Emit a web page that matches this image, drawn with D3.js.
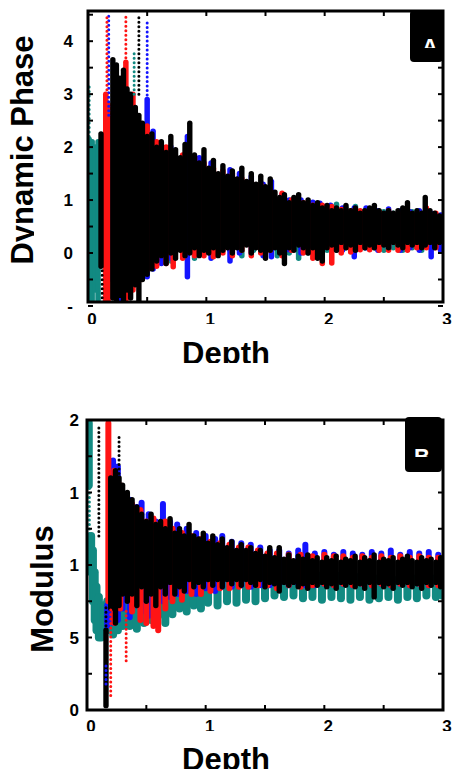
<!DOCTYPE html>
<html>
<head>
<meta charset="utf-8">
<script src="https://cdn.jsdelivr.net/npm/d3@7"></script>
<style>
  body { margin: 0; background: #fff; }
  svg { display: block; }
  text { font-family: "Liberation Sans", Arial, sans-serif; font-weight: bold; }
</style>
</head>
<body>
<div id="plot"></div>
<script>
// values: each streak is [depth, low, high]

const depthTicks = [0, 0.5, 1, 1.5, 2, 2.5, 3];
const depthLabels = [[0, "0"], [1, "1"], [2, "2"], [3, "3"]];

const phaseTicks = [-1, -0.5, 0, 0.5, 1, 1.5, 2, 2.5, 3, 3.5, 4, 4.5];
const phaseLabels = [[-1, "-"], [0, "0"], [1, "1"], [2, "2"], [3, "3"], [4, "4"]];

const modTicks = [0, 0.25, 0.5, 0.75, 1, 1.25, 1.5, 1.75, 2];
const modLabels = [[0, "0"], [0.5, "5"], [1, "1"], [1.5, "1"], [2, "2"]];

// ---- panel A : Dynamic Phase ----
const phaseTeal = [
  [0.01,-0.93,2.15],[0.035,-0.93,2.1],[0.06,-0.7,2.0],[0.085,-0.93,2.1],
  [0.5,-0.2,1.8],[0.6,-0.1,1.7],[0.7,-0.15,1.6],[0.8,0,1.5],[0.9,-0.1,1.6],
  [1.0,0.05,1.4],[1.1,0,1.4],[1.2,0.05,1.3],[1.3,-0.05,1.3],[1.4,0.05,1.2],
  [1.5,0,1.15],[1.6,-0.05,1.0],[1.7,0,0.95],[1.78,-0.1,0.95],[1.86,0,0.9],
  [1.94,0.05,0.9],[2.02,0.05,0.85],[2.1,0.05,0.92],[2.18,0.1,0.85],[2.26,0.05,0.88],
  [2.34,0.1,0.8],[2.42,0.1,0.8],[2.5,0.05,0.78],[2.58,0.1,0.75],[2.66,0.05,0.8],
  [2.74,0.1,0.78],[2.82,0.05,0.75],[2.9,0.1,0.72],[2.98,0.05,0.7]
];
const phaseBlue = [
  [0.18,-0.5,2.6],[0.28,-0.93,3.2],[0.35,-0.3,2.8],[0.5,-0.45,2.9],[0.55,-0.3,2.3],
  [0.62,-0.2,1.9],[0.7,-0.1,2.0],[0.84,-0.45,2.2],[0.94,0,1.8],[1.04,-0.1,1.7],
  [1.2,-0.15,1.57],[1.28,0,1.5],[1.38,0,1.45],[1.48,-0.05,1.3],[1.55,-0.07,1.35],
  [1.64,0,1.1],[1.7,0.06,1.0],[1.8,0,1.0],[1.9,0.05,0.96],[1.96,0.05,0.94],
  [2.05,0.1,0.9],[2.15,0.05,0.85],[2.25,-0.07,0.85],[2.35,0.1,0.85],[2.45,0.05,0.8],
  [2.54,0.1,0.83],[2.64,0.05,0.8],[2.72,0.1,0.78],[2.8,0.05,0.8],[2.9,-0.07,0.75],
  [2.98,0.05,0.72]
];
const phaseRed = [
  [0.15,-0.93,3.0],[0.17,-0.93,2.8],[0.32,-0.93,3.6],[0.38,-0.7,3.0],[0.45,-0.5,2.3],
  [0.5,-0.32,2.4],[0.58,-0.25,2.1],[0.66,-0.2,2.0],[0.72,-0.26,1.9],[0.8,-0.1,1.85],
  [0.9,-0.05,1.8],[0.98,-0.05,1.7],[1.06,-0.07,1.6],[1.14,0,1.55],[1.22,-0.05,1.5],
  [1.3,0.05,1.4],[1.38,-0.05,1.35],[1.46,0,1.3],[1.54,0.05,1.2],[1.64,-0.05,1.13],
  [1.72,0.05,1.0],[1.82,0,0.95],[1.9,-0.1,0.9],[1.98,-0.2,0.9],[2.06,-0.19,0.88],
  [2.14,0,0.82],[2.22,0.02,0.8],[2.3,0.06,0.8],[2.38,0.06,0.82],[2.46,0.05,0.78],
  [2.54,0.05,0.8],[2.62,0.05,0.75],[2.7,0.05,0.78],[2.78,0.1,0.75],[2.86,0.1,0.85],
  [2.94,0.1,0.75]
];
const phaseBlack = [
  [0.11,-0.25,2.25],[0.21,-0.85,3.65],[0.24,-0.9,3.55],[0.27,-0.8,3.3],[0.3,-0.9,3.45],
  [0.33,-0.7,3.1],[0.36,-0.85,3.0],[0.4,-0.6,2.75],[0.43,-0.9,2.6],[0.46,-0.5,2.45],
  [0.5,-0.4,2.2],[0.54,-0.3,2.25],[0.58,-0.15,2.0],[0.62,-0.05,2.1],[0.66,-0.2,1.9],
  [0.7,0,2.2],[0.74,-0.1,1.95],[0.78,0.05,1.8],[0.82,-0.05,2.05],[0.86,0,2.45],
  [0.9,0.1,1.85],[0.94,-0.05,1.7],[0.98,0.05,1.95],[1.02,0,1.6],[1.06,0.1,1.75],
  [1.1,-0.05,1.5],[1.14,0.05,1.65],[1.18,0.1,1.45],[1.22,0,1.55],[1.26,0.1,1.4],
  [1.3,0.05,1.6],[1.34,0.15,1.35],[1.38,0,1.5],[1.42,0.1,1.3],[1.46,0.05,1.45],
  [1.5,-0.1,1.25],[1.54,0.05,1.4],[1.58,0.1,1.15],[1.62,0,1.05],[1.66,-0.2,1.1],
  [1.7,0.1,0.95],[1.74,0.05,1.05],[1.78,0.15,1.1],[1.82,0.1,0.95],[1.86,0,1.0],
  [1.9,0.1,0.9],[1.94,-0.1,0.95],[1.98,-0.15,0.85],[2.02,0.1,0.9],[2.06,0.15,0.8],
  [2.1,0.05,0.85],[2.14,0.2,0.8],[2.18,0.1,0.9],[2.22,0.15,0.8],[2.26,0.05,0.85],
  [2.3,0.2,0.75],[2.34,0.1,0.8],[2.38,0.15,0.85],[2.42,0.1,0.9],[2.46,0.2,0.8],
  [2.5,0.15,0.75],[2.54,0.1,0.8],[2.58,0.2,0.75],[2.62,0.15,0.8],[2.66,0.1,0.85],
  [2.7,0.2,0.95],[2.74,0.15,0.75],[2.78,0.2,0.8],[2.82,0.1,0.75],[2.85,0.15,1.05],
  [2.89,0.2,0.8],[2.93,0.1,0.75],[2.97,0.2,0.7]
];
// sparse dotted streaks: [series, depth, low, high]
const phaseSparse = [
  ["teal",0.01,2.2,3.15],["teal",0.39,3.0,3.8],["blue",0.175,2.6,4.5],["blue",0.5,2.9,4.35],
  ["red",0.16,3.0,4.5],["red",0.32,3.6,4.5],["black",0.43,3.0,4.5],["black",0.12,-0.93,-0.3]
];

// ---- panel B : Modulus ----
const modTeal = [
  [0.015,1.55,1.98],[0.035,0.95,1.2],[0.05,0.75,1.1],[0.065,0.62,0.95],[0.08,0.55,0.85],
  [0.1,0.5,0.78],[0.12,0.5,0.72],[0.14,0.52,0.72],[0.17,0.55,0.75],[0.22,0.52,0.7],
  [0.26,0.55,0.8],[0.3,0.58,0.85],[0.36,0.58,0.85],[0.42,0.56,0.8],[0.48,0.6,0.9],
  [0.54,0.62,0.85],[0.6,0.65,0.9],[0.66,0.6,0.88],[0.72,0.66,0.9],[0.78,0.7,0.92],
  [0.84,0.68,0.9],[0.9,0.72,0.92],[0.96,0.7,0.94],[1.02,0.74,0.95],[1.1,0.72,0.93],
  [1.18,0.75,0.95],[1.26,0.74,0.94],[1.34,0.76,0.96],[1.42,0.75,0.95],[1.5,0.77,0.95],
  [1.58,0.79,0.94],[1.66,0.78,0.95],[1.74,0.79,0.93],[1.82,0.77,0.94],[1.9,0.78,0.92],
  [1.98,0.76,0.93],[2.06,0.78,0.92],[2.14,0.77,0.93],[2.22,0.76,0.91],[2.3,0.78,0.92],
  [2.38,0.76,0.93],[2.46,0.77,0.91],[2.54,0.78,0.92],[2.62,0.76,0.9],[2.7,0.78,0.92],
  [2.78,0.77,0.91],[2.86,0.79,0.9],[2.94,0.78,0.91],[2.99,0.79,0.9]
];
const modBlue = [
  [0.17,0.58,0.72],[0.22,0.6,1.72],[0.26,0.62,1.68],[0.3,0.7,1.5],[0.36,0.64,1.45],
  [0.42,0.72,1.4],[0.46,0.68,1.43],[0.52,0.65,1.35],[0.58,0.7,1.3],[0.64,0.75,1.42],
  [0.7,0.78,1.3],[0.76,0.8,1.28],[0.84,0.82,1.25],[0.92,0.8,1.22],[1.0,0.84,1.2],
  [1.08,0.82,1.18],[1.14,0.85,1.2],[1.22,0.85,1.16],[1.3,0.86,1.15],[1.38,0.85,1.14],
  [1.46,0.86,1.12],[1.54,0.86,1.1],[1.62,0.87,1.1],[1.7,0.86,1.08],[1.78,0.87,1.1],
  [1.84,0.86,1.14],[1.92,0.86,1.08],[2.0,0.87,1.09],[2.08,0.86,1.07],[2.16,0.87,1.09],
  [2.24,0.86,1.08],[2.32,0.87,1.07],[2.4,0.86,1.09],[2.48,0.87,1.08],[2.56,0.86,1.1],
  [2.64,0.87,1.07],[2.72,0.86,1.09],[2.8,0.87,1.08],[2.88,0.86,1.09],[2.96,0.87,1.07]
];
const modRed = [
  [0.18,0.75,1.98],[0.23,0.6,1.65],[0.28,0.7,1.55],[0.38,0.68,1.42],[0.45,0.62,1.38],
  [0.5,0.6,1.3],[0.56,0.58,1.32],[0.6,0.55,1.28],[0.66,0.7,1.3],[0.72,0.75,1.25],
  [0.8,0.76,1.22],[0.88,0.8,1.2],[0.96,0.8,1.18],[1.04,0.82,1.16],[1.12,0.84,1.15],
  [1.2,0.84,1.14],[1.28,0.85,1.12],[1.36,0.85,1.12],[1.44,0.86,1.1],[1.52,0.86,1.08],
  [1.6,0.84,1.08],[1.7,0.86,1.07],[1.8,0.85,1.07],[1.9,0.86,1.06],[2.0,0.87,1.07],
  [2.08,0.86,1.06],[2.16,0.87,1.06],[2.24,0.86,1.05],[2.32,0.87,1.06],[2.4,0.86,1.05],
  [2.48,0.87,1.06],[2.56,0.86,1.05],[2.64,0.87,1.06],[2.72,0.86,1.05],[2.8,0.87,1.06],
  [2.88,0.86,1.05],[2.96,0.86,1.05]
];
const modBlack = [
  [0.16,0.03,0.55],[0.2,0.7,1.6],[0.24,0.6,1.65],[0.27,0.72,1.6],[0.3,0.8,1.55],
  [0.34,0.75,1.5],[0.38,0.8,1.45],[0.42,0.72,1.4],[0.46,0.85,1.35],[0.5,0.75,1.3],
  [0.54,0.8,1.35],[0.58,0.72,1.28],[0.62,0.85,1.3],[0.66,0.8,1.25],[0.7,0.88,1.32],
  [0.74,0.8,1.22],[0.78,0.85,1.25],[0.82,0.82,1.2],[0.86,0.9,1.28],[0.9,0.85,1.2],
  [0.94,0.88,1.18],[0.98,0.85,1.22],[1.02,0.9,1.15],[1.06,0.86,1.2],[1.1,0.9,1.14],
  [1.14,0.85,1.18],[1.18,0.9,1.12],[1.22,0.87,1.16],[1.26,0.9,1.1],[1.3,0.86,1.14],
  [1.34,0.9,1.1],[1.38,0.88,1.12],[1.42,0.86,1.08],[1.46,0.9,1.1],[1.5,0.85,1.06],
  [1.54,0.88,1.12],[1.58,0.87,1.05],[1.62,0.82,1.12],[1.66,0.88,1.04],[1.7,0.86,1.07],
  [1.74,0.88,1.03],[1.78,0.85,1.06],[1.82,0.87,1.04],[1.86,0.84,1.07],[1.9,0.88,1.03],
  [1.94,0.86,1.05],[1.98,0.88,1.02],[2.02,0.85,1.05],[2.06,0.87,1.03],[2.1,0.84,1.06],
  [2.14,0.88,1.02],[2.18,0.86,1.04],[2.22,0.88,1.03],[2.26,0.85,1.06],[2.3,0.87,1.02],
  [2.34,0.84,1.05],[2.38,0.88,1.03],[2.42,0.78,1.07],[2.46,0.88,1.02],[2.5,0.85,1.04],
  [2.54,0.87,1.03],[2.58,0.84,1.05],[2.62,0.88,1.02],[2.66,0.86,1.04],[2.7,0.88,1.06],
  [2.74,0.85,1.03],[2.78,0.87,1.02],[2.82,0.84,1.05],[2.86,0.88,1.03],[2.9,0.86,1.04],
  [2.94,0.88,1.02],[2.98,0.85,1.05]
];
const modSparse = [
  ["teal",0.02,1.0,1.55],["black",0.1,1.2,1.95],["black",0.27,1.6,1.9],["black",0.16,0.55,0.72],
  ["red",0.2,0.1,0.7],["red",0.33,0.34,0.7],["blue",0.16,0.18,0.32]
];

const colors = { teal: "#128a82", blue: "#1414ff", red: "#ff1414", black: "#000" };

const width = 452, height = 775;

const svg = d3.select("#plot")
  .append("svg")
    .attr("width", width)
    .attr("height", height);

const defs = svg.append("defs");

function drawPanel(p) {
  const x = d3.scaleLinear().domain([0, 3]).range([p.left, p.right]);
  const y = d3.scaleLinear().domain(p.yDomain).range([p.bottom, p.top]);

  defs.append("clipPath").attr("id", p.id + "-clip")
    .append("rect")
      .attr("x", p.left).attr("y", p.top)
      .attr("width", p.right - p.left).attr("height", p.bottom - p.top);

  const plot = svg.append("g").attr("clip-path", "url(#" + p.id + "-clip)");

  // dense streaks, teal first and black on top
  p.series.forEach(function(s) {
    plot.selectAll(null)
      .data(s.data)
      .enter().append("line")
        .attr("x1", d => x(d[0])).attr("x2", d => x(d[0]))
        .attr("y1", d => y(d[1])).attr("y2", d => y(d[2]))
        .attr("stroke", colors[s.name])
        .attr("stroke-width", s.width)
        .attr("stroke-linecap", "round");
  });

  // sparse dotted streaks
  plot.selectAll(null)
    .data(p.sparse)
    .enter().append("line")
      .attr("x1", d => x(d[1])).attr("x2", d => x(d[1]))
      .attr("y1", d => y(d[2])).attr("y2", d => y(d[3]))
      .attr("stroke", d => colors[d[0]])
      .attr("stroke-width", 3)
      .attr("stroke-dasharray", "0,4.5")
      .attr("stroke-linecap", "round");

  // ticks on all four sides, pointing inward
  const tk = svg.append("g").attr("stroke", "#000").attr("stroke-width", 2);
  tk.selectAll(null).data(depthTicks).enter().append("line")
    .attr("x1", d => x(d)).attr("x2", d => x(d))
    .attr("y1", p.bottom).attr("y2", p.bottom - 5);
  tk.selectAll(null).data(depthTicks).enter().append("line")
    .attr("x1", d => x(d)).attr("x2", d => x(d))
    .attr("y1", p.top).attr("y2", p.top + 5);
  tk.selectAll(null).data(p.yTicks).enter().append("line")
    .attr("x1", p.left).attr("x2", p.left + 5)
    .attr("y1", d => y(d)).attr("y2", d => y(d));
  tk.selectAll(null).data(p.yTicks).enter().append("line")
    .attr("x1", p.right).attr("x2", p.right - 5)
    .attr("y1", d => y(d)).attr("y2", d => y(d));

  svg.append("rect")
    .attr("x", p.left).attr("y", p.top)
    .attr("width", p.right - p.left).attr("height", p.bottom - p.top)
    .attr("fill", "none").attr("stroke", "#000").attr("stroke-width", 3);

  // tick labels
  defs.append("clipPath").attr("id", p.id + "-xlab")
    .append("rect").attr("x", 0).attr("y", p.bottom + 2)
      .attr("width", width).attr("height", p.xLabelClip - p.bottom - 2);
  svg.append("g").attr("clip-path", "url(#" + p.id + "-xlab)")
    .selectAll("text").data(depthLabels).enter().append("text")
      .attr("x", d => x(d[0]) + 4)
      .attr("y", p.xLabelBase)
      .attr("text-anchor", "middle")
      .style("font-size", "17px")
      .text(d => d[1]);

  svg.append("g").selectAll("text").data(p.yLabels).enter().append("text")
    .attr("x", p.yLabelX)
    .attr("y", d => y(d[0]))
    .attr("dy", "0.36em")
    .attr("text-anchor", "end")
    .style("font-size", "17px")
    .text(d => d[1]);

  // axis titles (cut at the baseline as in the source image)
  defs.append("clipPath").attr("id", p.id + "-xt")
    .append("rect").attr("x", 0).attr("y", p.xTitleBase - 30)
      .attr("width", width).attr("height", 29);
  svg.append("text")
    .attr("clip-path", "url(#" + p.id + "-xt)")
    .attr("x", 226).attr("y", p.xTitleBase)
    .attr("text-anchor", "middle")
    .style("font-size", "31px")
    .text("Depth");

  defs.append("clipPath").attr("id", p.id + "-yt")
    .append("rect").attr("x", 0).attr("y", 0)
      .attr("width", p.yTitleX + 1).attr("height", height);
  svg.append("g").attr("clip-path", "url(#" + p.id + "-yt)")
    .append("text")
      .attr("transform", "translate(" + p.yTitleX + "," + p.yTitleY + ") rotate(-90)")
      .attr("text-anchor", "middle")
      .style("font-size", "31px")
      .text(p.yTitle);

  // panel letter box
  const b = p.box;
  svg.append("rect")
    .attr("x", b.x).attr("y", b.y).attr("width", b.w).attr("height", b.h)
    .attr("rx", 4).attr("fill", "#000");
  defs.append("clipPath").attr("id", p.id + "-lt")
    .append("rect").attr("x", b.x).attr("y", b.y).attr("width", b.w).attr("height", b.clip - b.y);
  svg.append("text")
    .attr("clip-path", "url(#" + p.id + "-lt)")
    .attr("x", b.tx).attr("y", b.ty)
    .attr("text-anchor", "middle")
    .attr("fill", "#fff")
    .style("font-size", "22px")
    .text(b.letter);
}

drawPanel({
  id: "pa", left: 88, right: 443, top: 11, bottom: 302,
  yDomain: [-0.925, 4.57], yTicks: phaseTicks, yLabels: phaseLabels, yLabelX: 73,
  series: [
    { name: "teal", data: phaseTeal, width: 5.5 }, { name: "blue", data: phaseBlue, width: 5.5 },
    { name: "red", data: phaseRed, width: 5.5 }, { name: "black", data: phaseBlack, width: 5.4 }
  ],
  sparse: phaseSparse,
  xLabelBase: 325, xLabelClip: 324,
  xTitleBase: 364,
  yTitle: "Dynamic Phase", yTitleX: 33, yTitleY: 150,
  box: { x: 410, y: 10, w: 33, h: 52, letter: "A", tx: 430, ty: 54, clip: 48 }
});

drawPanel({
  id: "pb", left: 87, right: 443, top: 420, bottom: 710,
  yDomain: [0, 2], yTicks: modTicks, yLabels: modLabels, yLabelX: 79,
  series: [
    { name: "teal", data: modTeal, width: 8 }, { name: "blue", data: modBlue, width: 6 },
    { name: "red", data: modRed, width: 6 }, { name: "black", data: modBlack, width: 5.4 }
  ],
  sparse: modSparse,
  xLabelBase: 732, xLabelClip: 731,
  xTitleBase: 770,
  yTitle: "Modulus", yTitleX: 53, yTitleY: 589,
  box: { x: 405, y: 417, w: 37, h: 55, letter: "B", tx: 422, ty: 464, clip: 457 }
});
</script>
</body>
</html>
